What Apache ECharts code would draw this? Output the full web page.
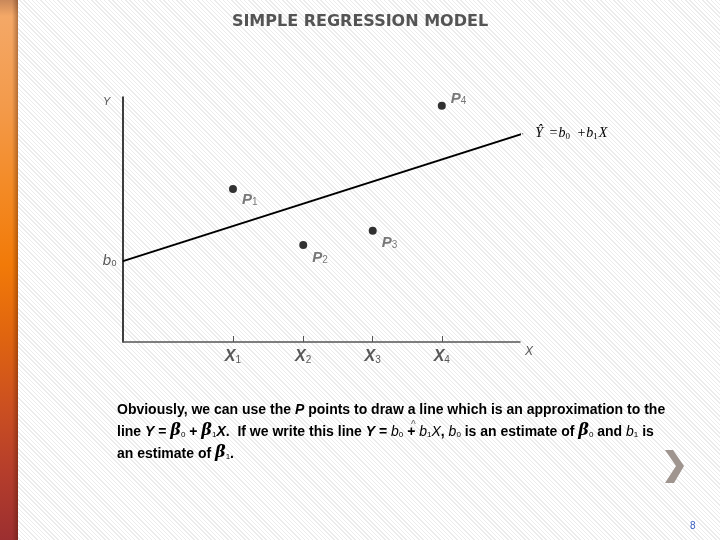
<!DOCTYPE html>
<html><head><meta charset="utf-8">
<script src="https://cdn.jsdelivr.net/npm/echarts@6/dist/echarts.min.js"></script>
<style>
html,body{margin:0;padding:0;width:720px;height:540px;overflow:hidden;
background:#fff repeating-linear-gradient(45deg,#ffffff 0px,#ffffff 2px,#ececec 2px,#ececec 3px);}
#c{width:720px;height:540px;}
</style></head><body><div id="c"></div>
<script>
// ---- data ----
const titleText = 'SIMPLE REGRESSION MODEL';
const xTickValues = [27.7, 45.4, 62.9, 80.3];
const xTickSubs = ['1', '2', '3', '4'];
const pointNames = ['1', '2', '3', '4'];
const pointX = [27.7, 45.4, 62.9, 80.3];
const pointY = [62.4, 39.6, 45.4, 96.4];
const lineX = [0, 100.7];
const lineY = [33, 85];

// ---- styles ----
const gray = '#585858';
const labelDy = [11, 13, 12, -7];

const chart = echarts.init(document.getElementById('c'), null, {renderer: 'canvas'});

const pointData = pointX.map((x, i) => ({
  value: [x, pointY[i]],
  label: {
    show: true, position: 'right', distance: 5, offset: [0, labelDy[i]],
    formatter: '{p|P}{s|' + pointNames[i] + '}',
    rich: {
      p: {fontFamily: 'Liberation Sans', fontWeight: 'bold', fontStyle: 'italic', fontSize: 15, color: gray, verticalAlign: 'bottom'},
      s: {fontFamily: 'Liberation Sans', fontSize: 10, color: gray, verticalAlign: 'bottom', padding: [4, 0, 0, 0]}
    }
  }
}));

const lineData = lineX.map((x, i) => ({value: [x, lineY[i]]}));
lineData[0].label = {
  show: true, position: 'left', distance: 6,
  formatter: '{b|b}{s|0}',
  rich: {
    b: {fontFamily: 'DejaVu Sans', fontStyle: 'italic', fontSize: 14, color: gray, verticalAlign: 'bottom'},
    s: {fontFamily: 'Liberation Sans', fontSize: 9, color: gray, verticalAlign: 'bottom', padding: [3, 0, 0, 0]}
  }
};
lineData[1].label = {
  show: true, position: 'right', distance: 12,
  formatter: '{i|Ŷ}{n| =}{i|b}{s|0}{n| +}{i|b}{s|1}{i|X}',
  rich: {
    i: {fontFamily: 'Liberation Serif', fontStyle: 'italic', fontSize: 14, color: '#000', verticalAlign: 'bottom'},
    n: {fontFamily: 'Liberation Serif', fontSize: 14, color: '#000', verticalAlign: 'bottom', padding: [0, 1, 0, 3]},
    s: {fontFamily: 'Liberation Serif', fontSize: 9, color: '#000', verticalAlign: 'bottom', padding: [3, 1, 0, 0]}
  }
};

const para = [
  '{t|Obviously, we can use the }{i|P}{t| points to draw a line which is an approximation to the}',
  '{t|line }{i|Y}{t| = }{b|β}{s|0}{t| + }{b|β}{s|1}{i|X}{t|.  If we write this line }{i|Y}{t| = }{j|b}{s|0}{t| + }{j|b}{s|1}{j|X}{t|, }{j|b}{s|0}{t| is an estimate of }{b|β}{s|0}{t| and }{j|b}{s|1}{t| is}',
  '{t|an estimate of }{b|β}{s|1}{t|.}'
].join('\n');

const option = {
  animation: false,
  backgroundColor: 'transparent',
  title: {
    text: titleText, left: 'center', top: 9,
    textStyle: {fontFamily: 'DejaVu Sans', fontWeight: 'bold', fontSize: 16, color: '#545454'}
  },
  grid: {left: 123, top: 97, right: 200, bottom: 198},
  xAxis: {
    type: 'value', min: 0, max: 100,
    axisLine: {show: true, lineStyle: {color: '#555', width: 1.5}},
    axisTick: {show: true, inside: true, length: 6, customValues: xTickValues, lineStyle: {color: '#555'}},
    axisLabel: {
      show: true, customValues: xTickValues, margin: 7,
      formatter: v => {
        const i = xTickValues.indexOf(v);
        return '{x|X}{s|' + xTickSubs[i] + '}';
      },
      rich: {
        x: {fontFamily: 'Liberation Sans', fontWeight: 'bold', fontStyle: 'italic', fontSize: 16, color: gray, verticalAlign: 'bottom'},
        s: {fontFamily: 'Liberation Sans', fontSize: 10, color: gray, verticalAlign: 'bottom', padding: [4, 0, 0, 0]}
      }
    },
    splitLine: {show: false}
  },
  yAxis: {
    type: 'value', min: 0, max: 100,
    axisLine: {show: true, lineStyle: {color: '#000', width: 1.5}},
    axisTick: {show: false}, axisLabel: {show: false}, splitLine: {show: false}
  },
  series: [
    {
      type: 'line', data: lineData, clip: false, symbol: 'circle', symbolSize: 1, showSymbol: true, silent: true,
      itemStyle: {color: '#000'},
      lineStyle: {color: '#000', width: 2}
    },
    {
      type: 'scatter', data: pointData, symbol: 'circle', symbolSize: 8,
      itemStyle: {color: '#000'}
    }
  ],
  graphic: [
    {type: 'rect', left: 0, top: 0, shape: {width: 18, height: 540}, silent: true,
      style: {fill: new echarts.graphic.LinearGradient(0, 0, 0, 1, [
        {offset: 0, color: '#c9885a'}, {offset: 0.03, color: '#f4a867'},
        {offset: 0.2, color: '#f39a4a'}, {offset: 0.35, color: '#f38a25'},
        {offset: 0.49, color: '#f27a08'}, {offset: 0.62, color: '#e0650f'},
        {offset: 0.75, color: '#cc5020'}, {offset: 0.87, color: '#b63e2b'},
        {offset: 1, color: '#9c2f30'}])}},
    {type: 'rect', left: 12, top: 0, shape: {width: 6, height: 540}, silent: true,
      style: {fill: new echarts.graphic.LinearGradient(0, 0, 1, 0, [
        {offset: 0, color: 'rgba(60,20,0,0)'}, {offset: 1, color: 'rgba(60,20,0,0.35)'}])}},
    {type: 'text', left: 103, top: 96, silent: true,
      style: {text: 'Y', font: 'italic 11px "Liberation Sans"', fill: gray}},
    {type: 'text', left: 525, top: 346, silent: true,
      style: {text: 'X', font: 'italic 12px "Liberation Sans"', fill: gray}},
    {type: 'text', left: 117, top: 403, silent: true,
      style: {text: para, rich: {
        t: {fontFamily: 'Liberation Sans', fontWeight: 'bold', fontSize: 14, color: gray, lineHeight: 22, verticalAlign: 'bottom'},
        i: {fontFamily: 'Liberation Sans', fontWeight: 'bold', fontStyle: 'italic', fontSize: 14, color: gray, lineHeight: 22, verticalAlign: 'bottom'},
        j: {fontFamily: 'Liberation Sans', fontStyle: 'italic', fontSize: 14, color: gray, lineHeight: 22, verticalAlign: 'bottom'},
        b: {fontFamily: 'DejaVu Serif', fontWeight: 'bold', fontStyle: 'italic', fontSize: 16, color: gray, lineHeight: 22, verticalAlign: 'bottom'},
        s: {fontFamily: 'Liberation Sans', fontSize: 8, color: gray, lineHeight: 22, verticalAlign: 'bottom', padding: [3, 0, 0, 0]}
      }}},
    {type: 'text', left: 411, top: 420, silent: true,
      style: {text: '^', font: '10px "Liberation Sans"', fill: gray}},
    {type: 'polygon', silent: true,
      shape: {points: [[665, 450], [673, 450], [684, 466], [674, 483], [665, 483], [676, 466]]},
      style: {fill: '#9f958f'}},
    {type: 'text', left: 690, top: 521, silent: true,
      style: {text: '8', font: '10px "Liberation Sans"', fill: '#3a5fc0'}}
  ]
};
chart.setOption(option);
</script></body></html>
